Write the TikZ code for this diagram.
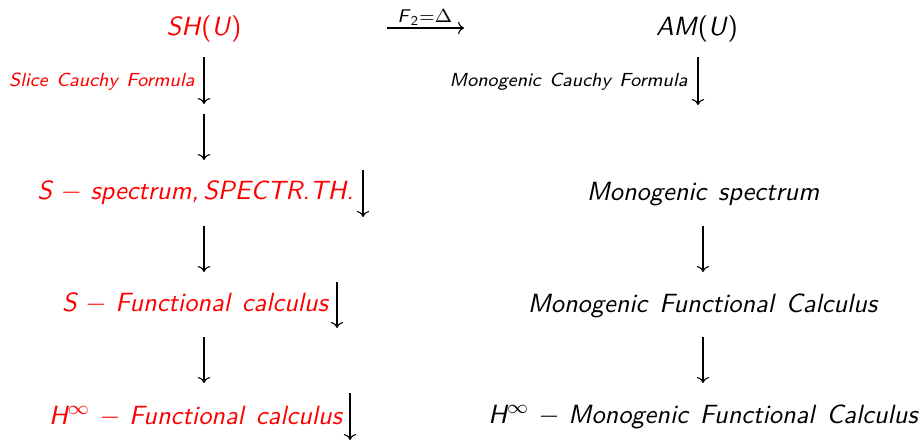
\documentclass[tikz,border=0pt]{standalone}
\usetikzlibrary{arrows.meta}

\tikzset{
  cdtext/.style={font=\sffamily\itshape\fontsize{9.75}{12}\selectfont, inner sep=0pt, anchor=base},
  cdlabel/.style={font=\sffamily\itshape\fontsize{7}{9}\selectfont, inner sep=0pt, anchor=base east},
  toplabel/.style={font=\sffamily\fontsize{6.8}{8}\selectfont, inner sep=0pt, anchor=base},
  cdarrow/.style={-{To[length=2.2pt,width=4.6pt]}, line width=0.4pt},
}
\newcommand{\wsp}{\hspace{0.45em}}

\begin{document}
\begin{tikzpicture}[x=0.013cm, y=-0.013cm]
  \useasboundingbox (0,0) rectangle (921,440);

  % left column
  \node[cdtext, red] (sh) at (204,36) {SH\textup{(}U\textup{)}};
  \node[cdlabel, red] (slice) at (195,87) {Slice\wsp Cauchy\wsp Formula};
  \node[cdtext, red] (spec) at (195.5,200) {S $-$ spectrum,\,SPECTR.TH.};
  \node[cdtext, red] (sfc) at (195,312) {S $-$ Functional\wsp calculus};
  \node[cdtext, red] (hfc) at (195.5,424) {H$^{\infty}$ $-$ Functional\wsp calculus};

  % right column
  \node[cdtext] (am) at (697,36) {AM\textup{(}U\textup{)}};
  \node[cdlabel] (mono) at (688,87) {Monogenic\wsp Cauchy\wsp Formula};
  \node[cdtext] (mspec) at (703,201) {Monogenic\wsp spectrum};
  \node[cdtext] (mfc) at (702.5,313) {Monogenic\wsp Functional\wsp Calculus};
  \node[cdtext] (mhfc) at (703,423) {H$^{\infty}$ $-$ Monogenic\wsp Functional\wsp Calculus};

  % top map
  \coordinate (f1) at (387,28);
  \coordinate (f2) at (464,28);
  \node[toplabel] (fmap) at (425,22.5) {\textit{F}$_{\mathsf{2}}$=$\Delta$};
  \draw[cdarrow] (f1) -- (f2);

  % vertical maps
  \foreach \n/\x/\ya/\yb in {a/204/57/104, b/204/114/160, c/204/226/272, d/204/337/383,
                             e/698/57/105, f/703/226/272, g/703/337/383,
                             h/363/170/217, i/337/282/328, j/350/393/440} {
    \coordinate (\n1) at (\x,\ya);
    \coordinate (\n2) at (\x,\yb);
    \draw[cdarrow] (\n1) -- (\n2);
  }
\end{tikzpicture}
\end{document}
